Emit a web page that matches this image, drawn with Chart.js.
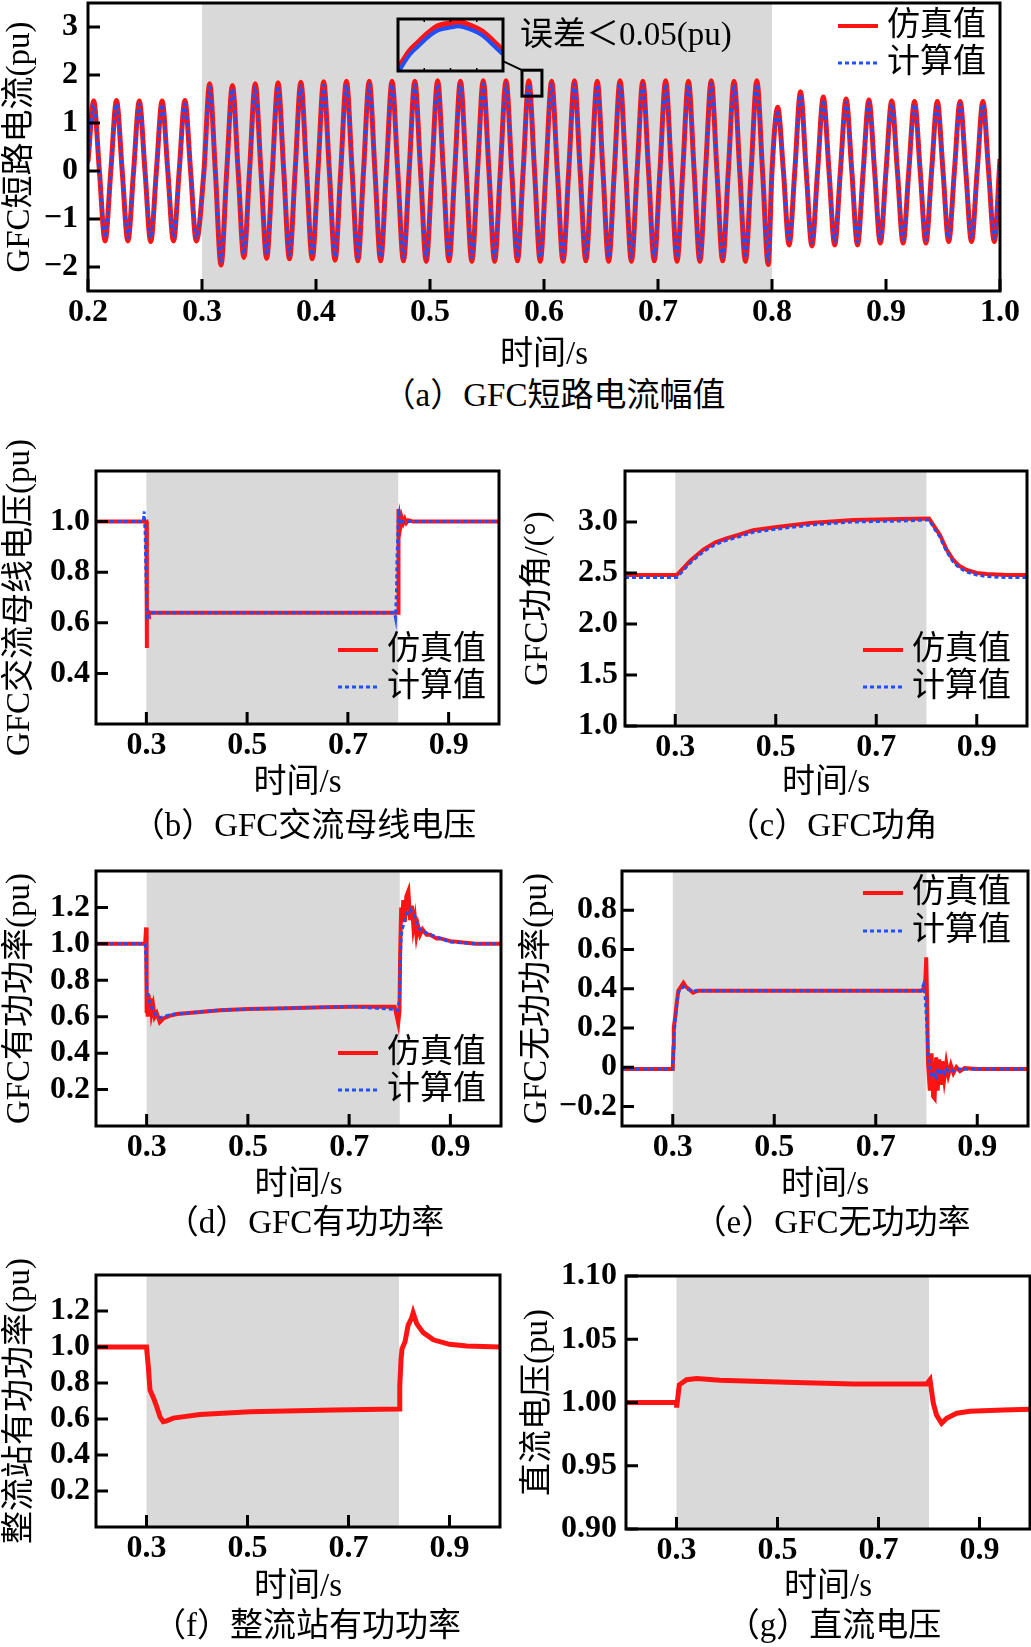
<!DOCTYPE html>
<html>
<head>
<meta charset="utf-8">
<script src="https://cdn.jsdelivr.net/npm/chart.js@4.4.1/dist/chart.umd.min.js"></script>
<style>
  html, body { margin: 0; padding: 0; background: #fff; overflow: hidden; }
  body { width: 1031px; height: 1647px; position: relative; }
  canvas { position: absolute; }
  .cap {
    position: absolute;
    font: 33px "Liberation Serif", "Noto Sans CJK SC", serif;
    white-space: nowrap;
    line-height: 1;
    transform: translate(-50%, -50%);
  }
</style>
</head>
<body>
<canvas id="chart-a"></canvas>
<canvas id="chart-inset"></canvas>
<canvas id="chart-b"></canvas>
<canvas id="chart-c"></canvas>
<canvas id="chart-d"></canvas>
<canvas id="chart-e"></canvas>
<canvas id="chart-f"></canvas>
<canvas id="chart-g"></canvas>

<div class="cap" style="left:554px;top:395px">（a）GFC短路电流幅值</div>
<div class="cap" style="left:304px;top:825px">（b）GFC交流母线电压</div>
<div class="cap" style="left:832px;top:825px">（c）GFC功角</div>
<div class="cap" style="left:305px;top:1222px">（d）GFC有功功率</div>
<div class="cap" style="left:832px;top:1222px">（e）GFC无功功率</div>
<div class="cap" style="left:307px;top:1625px">（f）整流站有功功率</div>
<div class="cap" style="left:834px;top:1625px">（g）直流电压</div>

<script>
// =========================
// DATA
// =========================

const FAULT_START = 0.3;
const FAULT_END = 0.8;

// (a) short-circuit current, read at zero crossings and peaks of each cycle
const currentTime = [
  0.200, 0.205, 0.210, 0.215, 0.220, 0.225, 0.230, 0.235, 0.240, 0.245,
  0.250, 0.255, 0.260, 0.265, 0.270, 0.275, 0.280, 0.285, 0.290, 0.295,
  0.3017, 0.3067, 0.3117, 0.3167, 0.3217, 0.3267, 0.3317, 0.3367, 0.3417, 0.3467,
  0.3517, 0.3567, 0.3617, 0.3667, 0.3717, 0.3767, 0.3817, 0.3867, 0.3917, 0.3967,
  0.4017, 0.4067, 0.4117, 0.4167, 0.4217, 0.4267, 0.4317, 0.4367, 0.4417, 0.4467,
  0.4517, 0.4567, 0.4617, 0.4667, 0.4717, 0.4767, 0.4817, 0.4867, 0.4917, 0.4967,
  0.5017, 0.5067, 0.5117, 0.5167, 0.5217, 0.5267, 0.5317, 0.5367, 0.5417, 0.5467,
  0.5517, 0.5567, 0.5617, 0.5667, 0.5717, 0.5767, 0.5817, 0.5867, 0.5917, 0.5967,
  0.6017, 0.6067, 0.6117, 0.6167, 0.6217, 0.6267, 0.6317, 0.6367, 0.6417, 0.6467,
  0.6517, 0.6567, 0.6617, 0.6667, 0.6717, 0.6767, 0.6817, 0.6867, 0.6917, 0.6967,
  0.7017, 0.7067, 0.7117, 0.7167, 0.7217, 0.7267, 0.7317, 0.7367, 0.7417, 0.7467,
  0.7517, 0.7567, 0.7617, 0.7667, 0.7717, 0.7767, 0.7817, 0.7867, 0.7917, 0.7967,
  0.800, 0.805, 0.810, 0.815, 0.820, 0.825, 0.830, 0.835, 0.840, 0.845,
  0.850, 0.855, 0.860, 0.865, 0.870, 0.875, 0.880, 0.885, 0.890, 0.895,
  0.900, 0.905, 0.910, 0.915, 0.920, 0.925, 0.930, 0.935, 0.940, 0.945,
  0.950, 0.955, 0.960, 0.965, 0.970, 0.975, 0.980, 0.985, 0.990, 0.995,
  1.000
];

const currentSim = [
  0.20, 1.46, 0, -1.46,  0, 1.47, 0, -1.46,  0, 1.46, 0, -1.47,  0, 1.46, 0, -1.46,  0, 1.47, 0, -1.46,
  0, 1.82, 0, -1.96,  0, 1.78, 0, -1.80,  0, 1.82, 0, -1.82,  0, 1.84, 0, -1.83,  0, 1.85, 0, -1.83,
  0, 1.86, 0, -1.86,  0, 1.87, 0, -1.87,  0, 1.87, 0, -1.87,  0, 1.87, 0, -1.87,  0, 1.87, 0, -1.88,
  0, 1.88, 0, -1.87,  0, 1.87, 0, -1.88,  0, 1.88, 0, -1.88,  0, 1.88, 0, -1.87,  0, 1.88, 0, -1.88,
  0, 1.87, 0, -1.88,  0, 1.88, 0, -1.87,  0, 1.87, 0, -1.88,  0, 1.88, 0, -1.88,  0, 1.87, 0, -1.87,
  0, 1.88, 0, -1.88,  0, 1.87, 0, -1.88,  0, 1.88, 0, -1.87,  0, 1.87, 0, -1.88,  0, 1.88, 0, -1.95,
  0, 1.33, 0, -1.54,  0, 1.65, 0, -1.56,  0, 1.54, 0, -1.54,  0, 1.50, 0, -1.54,  0, 1.48, 0, -1.50,
  0, 1.46, 0, -1.50,  0, 1.45, 0, -1.50,  0, 1.45, 0, -1.47,  0, 1.45, 0, -1.47,  0, 1.45, 0, -1.47,
  0.25
];

const currentCalc = [
  0.15, 1.39, 0, -1.39,  0, 1.40, 0, -1.39,  0, 1.39, 0, -1.40,  0, 1.39, 0, -1.39,  0, 1.40, 0, -1.39,
  0, 1.75, 0, -1.89,  0, 1.71, 0, -1.73,  0, 1.75, 0, -1.75,  0, 1.77, 0, -1.76,  0, 1.78, 0, -1.76,
  0, 1.79, 0, -1.79,  0, 1.80, 0, -1.80,  0, 1.80, 0, -1.80,  0, 1.80, 0, -1.80,  0, 1.80, 0, -1.81,
  0, 1.81, 0, -1.80,  0, 1.80, 0, -1.81,  0, 1.81, 0, -1.81,  0, 1.81, 0, -1.80,  0, 1.81, 0, -1.81,
  0, 1.80, 0, -1.81,  0, 1.81, 0, -1.80,  0, 1.80, 0, -1.81,  0, 1.81, 0, -1.81,  0, 1.80, 0, -1.80,
  0, 1.81, 0, -1.81,  0, 1.80, 0, -1.81,  0, 1.81, 0, -1.80,  0, 1.80, 0, -1.81,  0, 1.81, 0, -1.88,
  0, 1.27, 0, -1.48,  0, 1.59, 0, -1.50,  0, 1.48, 0, -1.48,  0, 1.44, 0, -1.48,  0, 1.42, 0, -1.44,
  0, 1.40, 0, -1.44,  0, 1.39, 0, -1.44,  0, 1.39, 0, -1.41,  0, 1.39, 0, -1.41,  0, 1.39, 0, -1.41,
  0.20
];

// (a) inset: magnified peak, in inset-local units (0..1)
const insetX    = [0, 0.11, 0.19, 0.29, 0.38, 0.51, 0.57, 0.70, 0.80, 0.89, 1.0];
const insetSim  = [0.03, 0.38, 0.54, 0.73, 0.86, 0.92, 0.94, 0.86, 0.76, 0.60, 0.38];
const insetCalc = [-0.03, 0.31, 0.47, 0.66, 0.78, 0.84, 0.86, 0.79, 0.69, 0.53, 0.32];

// (b) AC bus voltage
const busTime = [0.2, 0.25, 0.294, 0.2955, 0.2975, 0.3, 0.3008, 0.3012, 0.302, 0.3035,
  0.305, 0.31, 0.4, 0.5, 0.6, 0.7, 0.79, 0.7935, 0.7945, 0.7965,
  0.7975, 0.799, 0.7998, 0.8005, 0.8015, 0.803, 0.805, 0.807, 0.81, 0.813,
  0.816, 0.82, 0.83, 0.9, 1.0];
const busSim = [1.0, 1.0, 1.0, 1.0, 1.0, 1.0, 0.50, 0.66, 0.64, 0.645,
  0.64, 0.64, 0.64, 0.64, 0.64, 0.64, 0.64, 0.64, 0.64, 0.64,
  0.64, 0.64, 0.64, 1.05, 0.99, 1.02, 0.99, 1.015, 0.995, 1.01,
  0.995, 1.005, 1.0, 1.0, 1.0];
const busCalc = [1.0, 1.0, 1.0, 1.04, 0.96, 0.72, 0.66, 0.64, 0.62, 0.61,
  0.63, 0.64, 0.64, 0.64, 0.64, 0.64, 0.64, 0.63, 0.62, 0.72,
  0.85, 0.94, 1.0, 1.02, 1.03, 0.99, 1.0, 1.0, 1.0, 1.0,
  1.0, 1.0, 1.0, 1.0, 1.0];

// (c) power angle
const angleTime = [0.2, 0.3, 0.303, 0.33, 0.356, 0.38, 0.402, 0.43, 0.455, 0.502, 0.568, 0.654,
  0.75, 0.805, 0.815, 0.827, 0.84, 0.853, 0.865, 0.88, 0.9, 0.92, 0.96, 1.0];
const angleSim = [2.48, 2.48, 2.48, 2.62, 2.73, 2.80, 2.84, 2.88, 2.92, 2.95, 2.99, 3.02,
  3.03, 3.035, 2.96, 2.87, 2.73, 2.63, 2.57, 2.53, 2.50, 2.49, 2.48, 2.48];
const angleCalc = [2.455, 2.455, 2.455, 2.60, 2.71, 2.78, 2.82, 2.86, 2.90, 2.93, 2.97, 3.00,
  3.01, 3.02, 2.94, 2.85, 2.71, 2.61, 2.55, 2.51, 2.48, 2.465, 2.455, 2.455];

// (d) GFC active power
const pTime = [0.2, 0.25, 0.297, 0.299, 0.3, 0.301, 0.302, 0.304, 0.306, 0.308,
  0.31, 0.313, 0.316, 0.32, 0.326, 0.333, 0.345, 0.36, 0.4, 0.445,
  0.5, 0.577, 0.65, 0.708, 0.79, 0.797, 0.7995, 0.8008, 0.8028, 0.805,
  0.807, 0.81, 0.813, 0.817, 0.8206, 0.824, 0.827, 0.83, 0.833, 0.836,
  0.84, 0.845, 0.853, 0.86, 0.873, 0.88, 0.9, 0.95, 1.0];
const pSim = [1.0, 1.0, 1.0, 1.09, 0.62, 0.73, 0.6, 0.72, 0.61, 0.7,
  0.62, 0.66, 0.6, 0.62, 0.57, 0.59, 0.605, 0.615, 0.625, 0.636,
  0.642, 0.647, 0.652, 0.655, 0.655, 0.565, 0.63, 0.95, 1.2, 1.13,
  1.24, 1.12, 1.26, 1.29, 1.13, 1.21, 1.09, 1.14, 1.05, 1.1,
  1.05, 1.08, 1.05, 1.05, 1.03, 1.03, 1.015, 1.0, 1.0];
const pCalc = [1.0, 1.0, 1.0, 0.9, 0.77, 0.75, 0.73, 0.7, 0.68, 0.66,
  0.65, 0.64, 0.62, 0.6, 0.595, 0.6, 0.61, 0.615, 0.625, 0.636,
  0.642, 0.647, 0.652, 0.655, 0.64, 0.636, 0.71, 0.89, 1.04, 1.08,
  1.1, 1.14, 1.16, 1.18, 1.19, 1.17, 1.16, 1.15, 1.12, 1.1,
  1.08, 1.07, 1.06, 1.05, 1.04, 1.03, 1.01, 1.0, 1.0];

// (e) GFC reactive power
const qTime = [0.2, 0.25, 0.3, 0.3012, 0.302, 0.305, 0.308, 0.311, 0.316, 0.321,
  0.326, 0.331, 0.34, 0.35, 0.5, 0.7, 0.79, 0.794, 0.797, 0.7995,
  0.8012, 0.803, 0.8065, 0.81, 0.813, 0.816, 0.819, 0.822, 0.825, 0.828,
  0.831, 0.835, 0.839, 0.843, 0.848, 0.853, 0.859, 0.866, 0.875, 0.9, 1.0];
const qSim = [-0.01, -0.01, -0.01, 0.1, 0.2, 0.26, 0.33, 0.39, 0.41, 0.43,
  0.41, 0.40, 0.38, 0.39, 0.39, 0.39, 0.39, 0.40, 0.39, 0.56,
  0.33, 0.02, -0.12, 0.07, -0.15, -0.16, 0.05, -0.12, 0.04, -0.09,
  0.03, -0.06, 0.02, -0.04, 0.01, -0.03, 0.0, -0.02, -0.005, -0.01, -0.01];
const qCalc = [-0.01, -0.01, -0.01, 0.05, 0.15, 0.24, 0.32, 0.38, 0.40, 0.41,
  0.40, 0.395, 0.39, 0.39, 0.39, 0.39, 0.39, 0.42, 0.37, 0.27,
  0.18, 0.06, 0.0, -0.04, -0.05, -0.04, -0.05, -0.02, -0.04, -0.02,
  -0.01, -0.03, -0.01, -0.02, -0.01, -0.02, -0.01, -0.01, -0.01, -0.01, -0.01];

// (f) rectifier station active power
const rectTime = [0.2, 0.25, 0.3, 0.3036, 0.307, 0.3135, 0.32, 0.327, 0.333, 0.34,
  0.353, 0.406, 0.505, 0.67, 0.8, 0.8015, 0.804, 0.806, 0.812, 0.818,
  0.825, 0.828, 0.835, 0.848, 0.868, 0.9, 0.934, 1.0];
const rectP = [1.0, 1.0, 1.0, 0.89, 0.76, 0.72, 0.67, 0.61, 0.585, 0.59,
  0.605, 0.625, 0.64, 0.65, 0.655, 0.78, 0.93, 0.99, 1.03, 1.12,
  1.16, 1.19, 1.13, 1.08, 1.04, 1.015, 1.005, 1.0];

// (g) DC voltage
const dcTime = [0.2, 0.25, 0.3, 0.3003, 0.3056, 0.32, 0.34, 0.386, 0.518, 0.65,
  0.7955, 0.802, 0.8085, 0.815, 0.825, 0.835, 0.855, 0.881, 0.947, 1.0];
const dcVolt = [1.0, 1.0, 1.0, 0.996, 1.014, 1.018, 1.019, 1.0175, 1.016, 1.0146,
  1.0146, 1.018, 0.9994, 0.990, 0.9836, 0.9875, 0.9915, 0.993, 0.994, 0.9946];

// tick values and labels
const timeTicksA = [0.2, 0.3, 0.4, 0.5, 0.6, 0.7, 0.8, 0.9, 1.0];
const timeLabelsA = ["0.2", "0.3", "0.4", "0.5", "0.6", "0.7", "0.8", "0.9", "1.0"];
const timeTicks = [0.3, 0.5, 0.7, 0.9];
const timeLabels = ["0.3", "0.5", "0.7", "0.9"];
const currentTicks = [-2, -1, 0, 1, 2, 3];
const currentLabels = ["\u22122", "\u22121", "0", "1", "2", "3"];
const busTicks = [0.4, 0.6, 0.8, 1.0];
const busLabels = ["0.4", "0.6", "0.8", "1.0"];
const angleTicks = [1.0, 1.5, 2.0, 2.5, 3.0];
const angleLabels = ["1.0", "1.5", "2.0", "2.5", "3.0"];
const powerTicks = [0.2, 0.4, 0.6, 0.8, 1.0, 1.2];
const powerLabels = ["0.2", "0.4", "0.6", "0.8", "1.0", "1.2"];
const qTicks = [-0.2, 0, 0.2, 0.4, 0.6, 0.8];
const qLabels = ["\u22120.2", "0", "0.2", "0.4", "0.6", "0.8"];
const dcTicks = [0.90, 0.95, 1.00, 1.05, 1.10];
const dcLabels = ["0.90", "0.95", "1.00", "1.05", "1.10"];


// =========================
// STYLE / LAYOUT
// =========================

const RED = "#ff1414";
const BLUE = "#1f50ff";
const SHADE = "#d9d9d9";
const FONT = '"Liberation Serif", "Times New Roman", "Noto Sans CJK SC", serif';

// plot box of each panel in page pixels, y-axis width, x-axis height, label gap
const PANELS = {
  a: { l: 88, t: 3, r: 1000, b: 291, yw: 87, xh: 84, yPad: 10 },
  b: { l: 96, t: 471, r: 499, b: 724, yw: 95, xh: 79, yPad: 6 },
  c: { l: 625, t: 471, r: 1027, b: 726, yw: 106, xh: 77, yPad: 7 },
  d: { l: 96, t: 871, r: 501, b: 1126, yw: 95, xh: 79, yPad: 6 },
  e: { l: 622, t: 871, r: 1028, b: 1126, yw: 104, xh: 79, yPad: 5 },
  f: { l: 96, t: 1275, r: 500, b: 1527, yw: 95, xh: 80, yPad: 6 },
  g: { l: 626, t: 1276, r: 1030, b: 1529, yw: 107, xh: 78, yPad: 9 }
};
const INSET_BOX = { l: 398, t: 19, r: 503, b: 71 };

// marks on panel (a), in data units
const ZOOM_BOX = { x0: 0.5807, x1: 0.5982, y0: 1.56, y1: 2.10 };
const ZOOM_LINK = { x0: 0.5640, y0: 2.29, x1: 0.5807, y1: 2.10 };
const ERROR_NOTE = { x: 0.579, y: 2.80, text: "误差＜0.05(pu)" };

Chart.defaults.font.family = FONT;
Chart.defaults.font.size = 32;
Chart.defaults.color = "#000";

const TICK_FONT = { size: 32, weight: "bold" };


// =========================
// HELPERS
// =========================

function points(time, values) {
  return time.map((t, i) => ({ x: t, y: values[i] }));
}

function simSet(time, values, width, smooth) {
  return {
    label: "仿真值",
    data: points(time, values),
    borderColor: RED,
    borderWidth: width,
    pointRadius: 0,
    fill: false,
    tension: 0,
    cubicInterpolationMode: smooth ? "monotone" : "default",
    order: 1
  };
}

function calcSet(time, values, smooth) {
  return {
    label: "计算值",
    data: points(time, values),
    borderColor: BLUE,
    borderWidth: 3,
    borderDash: [4, 3],
    pointRadius: 0,
    fill: false,
    tension: 0,
    cubicInterpolationMode: smooth ? "monotone" : "default",
    order: 0
  };
}

function drawLegend(chart, pos) {
  const { ctx, chartArea: a } = chart;
  const x0 = a.right + pos.dx;
  chart.data.datasets.forEach((ds, i) => {
    const yy = a.top + pos.dy[i];
    ctx.save();
    ctx.strokeStyle = ds.borderColor;
    ctx.lineWidth = ds.borderDash ? 3 : 4;
    ctx.setLineDash(ds.borderDash || []);
    ctx.beginPath();
    ctx.moveTo(x0, yy);
    ctx.lineTo(x0 + 40, yy);
    ctx.stroke();
    ctx.restore();
    ctx.fillStyle = "#000";
    ctx.font = "33px " + FONT;
    ctx.textBaseline = "middle";
    ctx.textAlign = "left";
    ctx.fillText(ds.label, x0 + 49, yy);
  });
}

function drawZoomMarks(chart) {
  const { ctx, scales: { x, y } } = chart;
  const bx0 = x.getPixelForValue(ZOOM_BOX.x0), bx1 = x.getPixelForValue(ZOOM_BOX.x1);
  const by0 = y.getPixelForValue(ZOOM_BOX.y1), by1 = y.getPixelForValue(ZOOM_BOX.y0);
  ctx.strokeStyle = "#000";
  ctx.setLineDash([]);
  ctx.lineWidth = 3;
  ctx.strokeRect(bx0, by0, bx1 - bx0, by1 - by0);
  ctx.lineWidth = 2;
  ctx.beginPath();
  ctx.moveTo(x.getPixelForValue(ZOOM_LINK.x0), y.getPixelForValue(ZOOM_LINK.y0));
  ctx.lineTo(x.getPixelForValue(ZOOM_LINK.x1), y.getPixelForValue(ZOOM_LINK.y1));
  ctx.stroke();
  ctx.fillStyle = "#000";
  ctx.font = "33px " + FONT;
  ctx.textBaseline = "middle";
  ctx.textAlign = "left";
  ctx.fillText(ERROR_NOTE.text, x.getPixelForValue(ERROR_NOTE.x), y.getPixelForValue(ERROR_NOTE.y));
}

// shaded fault window, frame, inward ticks, legend
function panelPlugin(extra) {
  return {
    id: "panel",
    beforeDatasetsDraw(chart) {
      const { ctx, chartArea: a, scales: { x } } = chart;
      const x0 = x.getPixelForValue(FAULT_START);
      const x1 = x.getPixelForValue(FAULT_END);
      ctx.save();
      ctx.fillStyle = SHADE;
      ctx.fillRect(x0, a.top, x1 - x0, a.bottom - a.top);
      ctx.restore();
    },
    afterDatasetsDraw(chart) {
      const { ctx, chartArea: a, scales: { x, y } } = chart;
      ctx.save();
      ctx.strokeStyle = "#000";
      ctx.lineWidth = 3;
      ctx.strokeRect(a.left, a.top, a.right - a.left, a.bottom - a.top);
      ctx.beginPath();
      y.ticks.forEach(t => {
        const py = y.getPixelForValue(t.value);
        ctx.moveTo(a.left, py);
        ctx.lineTo(a.left + 12, py);
      });
      x.ticks.forEach(t => {
        const px = x.getPixelForValue(t.value);
        ctx.moveTo(px, a.bottom);
        ctx.lineTo(px, a.bottom - 12);
      });
      ctx.stroke();
      if (extra.legend) drawLegend(chart, extra.legend);
      if (extra.after) extra.after(chart);
      ctx.restore();
    }
  };
}

function makePanel(id, box, cfg) {
  const canvas = document.getElementById(id);
  const padTop = 32, padRight = 26;
  canvas.width = box.yw + (box.r - box.l) + padRight;
  canvas.height = padTop + (box.b - box.t) + box.xh;
  canvas.style.left = (box.l - box.yw) + "px";
  canvas.style.top = (box.t - padTop) + "px";

  return new Chart(canvas.getContext("2d"), {
    type: "line",
    data: { datasets: cfg.datasets },
    options: {
      responsive: false,
      animation: false,
      events: [],
      layout: { padding: { top: padTop, right: padRight, bottom: 0, left: 0 } },
      plugins: { legend: { display: false }, tooltip: { enabled: false } },
      scales: {
        x: {
          type: "linear",
          min: 0.2,
          max: 1.0,
          bounds: "data",
          grid: { display: false, drawTicks: false },
          border: { display: false },
          ticks: { padding: 3, autoSkip: false, maxRotation: 0, font: TICK_FONT, callback: (v, i) => cfg.xLabels[i] },
          afterBuildTicks: s => { s.ticks = cfg.xTicks.map(v => ({ value: v })); },
          afterFit: s => { s.height = box.xh; },
          title: { display: true, text: "时间/s", padding: 0, font: { size: 33 } }
        },
        y: {
          type: "linear",
          min: cfg.yMin,
          max: cfg.yMax,
          bounds: "data",
          grid: { display: false, drawTicks: false },
          border: { display: false },
          ticks: { padding: box.yPad, autoSkip: false, font: TICK_FONT, callback: (v, i) => cfg.yLabels[i] },
          afterBuildTicks: s => { s.ticks = cfg.yTicks.map(v => ({ value: v })); },
          afterFit: s => { s.width = box.yw; },
          title: { display: true, text: cfg.yTitle, padding: 0, font: { size: 33 } }
        }
      }
    },
    plugins: [panelPlugin(cfg)]
  });
}

function makeInset() {
  const canvas = document.getElementById("chart-inset");
  const pad = 4;
  canvas.width = INSET_BOX.r - INSET_BOX.l + 2 * pad;
  canvas.height = INSET_BOX.b - INSET_BOX.t + 2 * pad;
  canvas.style.left = (INSET_BOX.l - pad) + "px";
  canvas.style.top = (INSET_BOX.t - pad) + "px";

  const sim = simSet(insetX, insetSim, 6, true);
  const calc = calcSet(insetX, insetCalc, true);
  calc.borderWidth = 4;
  calc.borderDash = undefined;

  new Chart(canvas.getContext("2d"), {
    type: "line",
    data: { datasets: [sim, calc] },
    options: {
      responsive: false,
      animation: false,
      events: [],
      layout: { padding: pad },
      plugins: { legend: { display: false }, tooltip: { enabled: false } },
      scales: {
        x: { type: "linear", display: false, min: 0, max: 1 },
        y: { type: "linear", display: false, min: 0, max: 1 }
      }
    },
    plugins: [{
      id: "insetFrame",
      afterDatasetsDraw(chart) {
        const { ctx, chartArea: a } = chart;
        ctx.save();
        ctx.strokeStyle = "#000";
        ctx.lineWidth = 3;
        ctx.strokeRect(a.left, a.top, a.right - a.left, a.bottom - a.top);
        ctx.lineWidth = 1.5;
        ctx.beginPath();
        [0.25, 0.5, 0.75].forEach(f => {
          const px = a.left + f * (a.right - a.left);
          ctx.moveTo(px, a.bottom); ctx.lineTo(px, a.bottom - 3);
          ctx.moveTo(px, a.top); ctx.lineTo(px, a.top + 3);
        });
        ctx.stroke();
        ctx.restore();
      }
    }]
  });
}


// =========================
// RENDER
// =========================

makePanel("chart-a", PANELS.a, {
  datasets: [simSet(currentTime, currentSim, 5, true), calcSet(currentTime, currentCalc, true)],
  yMin: -2.5, yMax: 3.5,
  xTicks: timeTicksA, xLabels: timeLabelsA,
  yTicks: currentTicks, yLabels: currentLabels,
  yTitle: "GFC短路电流(pu)",
  legend: { dx: -162, dy: [23, 60] },
  after: drawZoomMarks
});
makeInset();

makePanel("chart-b", PANELS.b, {
  datasets: [simSet(busTime, busSim, 4), calcSet(busTime, busCalc)],
  yMin: 0.2, yMax: 1.2,
  xTicks: timeTicks, xLabels: timeLabels,
  yTicks: busTicks, yLabels: busLabels,
  yTitle: "GFC交流母线电压(pu)",
  legend: { dx: -161, dy: [179, 216] }
});

makePanel("chart-c", PANELS.c, {
  datasets: [simSet(angleTime, angleSim, 4), calcSet(angleTime, angleCalc)],
  yMin: 1.0, yMax: 3.5,
  xTicks: timeTicks, xLabels: timeLabels,
  yTicks: angleTicks, yLabels: angleLabels,
  yTitle: "GFC功角/(°)",
  legend: { dx: -164, dy: [179, 216] }
});

makePanel("chart-d", PANELS.d, {
  datasets: [simSet(pTime, pSim, 4), calcSet(pTime, pCalc)],
  yMin: 0, yMax: 1.4,
  xTicks: timeTicks, xLabels: timeLabels,
  yTicks: powerTicks, yLabels: powerLabels,
  yTitle: "GFC有功功率(pu)",
  legend: { dx: -163, dy: [182, 219] }
});

makePanel("chart-e", PANELS.e, {
  datasets: [simSet(qTime, qSim, 4), calcSet(qTime, qCalc)],
  yMin: -0.3, yMax: 1.0,
  xTicks: timeTicks, xLabels: timeLabels,
  yTicks: qTicks, yLabels: qLabels,
  yTitle: "GFC无功功率(pu)",
  legend: { dx: -165, dy: [22, 60] }
});

makePanel("chart-f", PANELS.f, {
  datasets: [simSet(rectTime, rectP, 5)],
  yMin: 0, yMax: 1.4,
  xTicks: timeTicks, xLabels: timeLabels,
  yTicks: powerTicks, yLabels: powerLabels,
  yTitle: "整流站有功功率(pu)"
});

makePanel("chart-g", PANELS.g, {
  datasets: [simSet(dcTime, dcVolt, 5)],
  yMin: 0.9, yMax: 1.1,
  xTicks: timeTicks, xLabels: timeLabels,
  yTicks: dcTicks, yLabels: dcLabels,
  yTitle: "直流电压(pu)"
});
</script>
</body>
</html>
